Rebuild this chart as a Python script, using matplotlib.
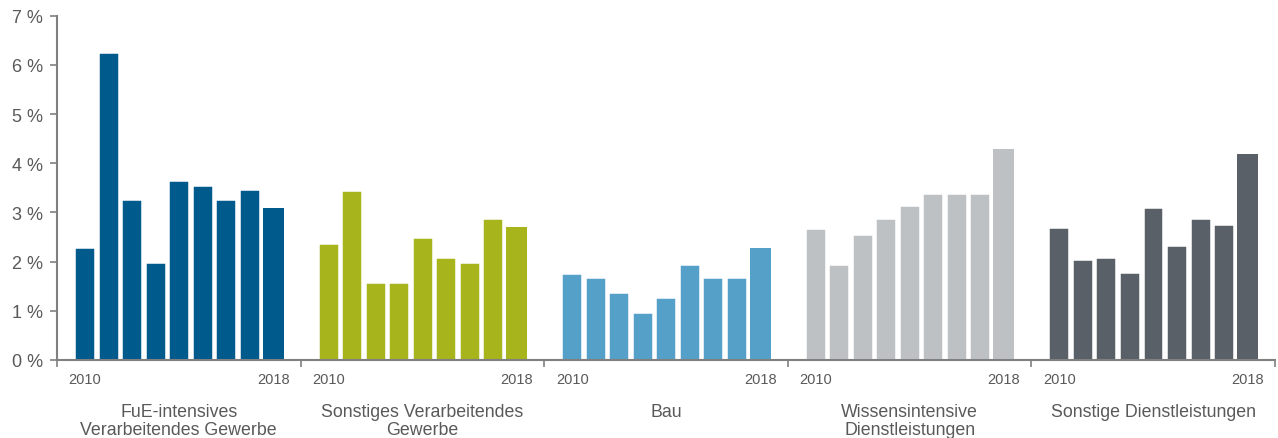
import numpy as np
import matplotlib
matplotlib.use("Agg")
import matplotlib.pyplot as plt

# data (share in %, 2010..2018)
years = ["2010", "2011", "2012", "2013", "2014", "2015", "2016", "2017", "2018"]
groups = ["FuE-intensives\nVerarbeitendes Gewerbe",
          "Sonstiges Verarbeitendes\nGewerbe",
          "Bau",
          "Wissensintensive\nDienstleistungen",
          "Sonstige Dienstleistungen"]
fue = [2.28, 6.25, 3.26, 1.97, 3.63, 3.53, 3.26, 3.46, 3.10]
sonst_verarb = [2.35, 3.43, 1.57, 1.57, 2.49, 2.08, 1.97, 2.86, 2.70]
bau = [1.74, 1.67, 1.37, 0.96, 1.26, 1.94, 1.67, 1.67, 2.27]
wissen = [2.66, 1.94, 2.55, 2.86, 3.13, 3.37, 3.37, 3.37, 4.29]
sonst_dienst = [2.69, 2.04, 2.08, 1.77, 3.09, 2.31, 2.86, 2.75, 4.18]
values = [fue, sonst_verarb, bau, wissen, sonst_dienst]
colors = ["#005a8c", "#a8b41c", "#55a0c8", "#bec1c4", "#5a6067"]

plt.rcParams['font.family'] = ['Liberation Sans', 'DejaVu Sans']
txt = "#595959"
axcol = "#808080"

fig = plt.figure(figsize=(12.78, 4.39), dpi=100)
ax = fig.add_axes([0.0446, 0.1777, 0.9531, 0.7843])

pitch = 0.0965
first = 0.115
for g, (vals, col) in enumerate(zip(values, colors)):
    xs = g + first + pitch * np.arange(len(vals))
    ax.bar(xs[:-1], vals[:-1], width=0.082, color=col, edgecolor="white", linewidth=1.1, zorder=2)
    ax.bar(xs[-1], vals[-1], width=0.086, color=col, linewidth=0, zorder=2)
    ax.text(xs[0], -0.39, years[0], ha="center", va="center", fontsize=10.5, color=txt)
    ax.text(xs[-1], -0.39, years[-1], ha="center", va="center", fontsize=10.5, color=txt)
    ax.text(g + 0.5, -0.88, groups[g], ha="center", va="top", fontsize=12.8,
            color=txt, linespacing=1.05, clip_on=False)

ax.set_xlim(0, 5)
ax.set_ylim(0, 7)
ax.set_yticks(range(0, 8))
ax.set_yticklabels([f"{i} %" for i in range(0, 8)])
ax.set_xticks(range(0, 6))
ax.set_xticklabels([])
ax.tick_params(axis="y", colors=axcol, labelcolor=txt, labelsize=13, length=5, width=1.2, pad=5)
ax.tick_params(axis="x", colors=axcol, length=5, width=1.2)
for s in ["top", "right"]:
    ax.spines[s].set_visible(False)
for s in ["left", "bottom"]:
    ax.spines[s].set_color(axcol)
    ax.spines[s].set_linewidth(1.5)
    ax.spines[s].set_zorder(3)

fig.savefig("out.png", dpi=100)
